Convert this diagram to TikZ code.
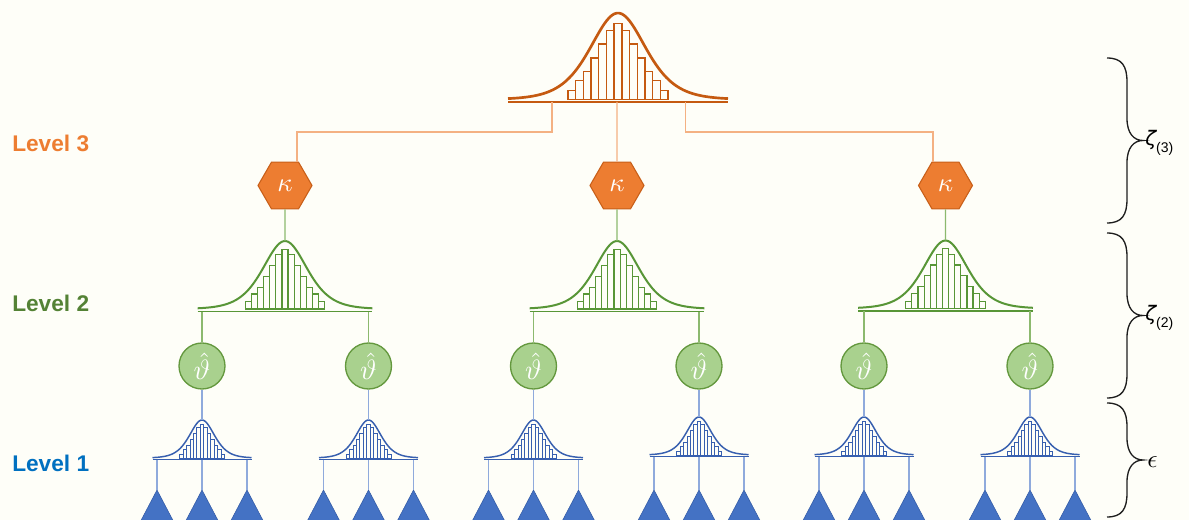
\documentclass[tikz,border=0pt]{standalone}
\usepackage{fontspec}
\usepackage{graphicx}
\newfontfamily\lsans{Liberation Sans}
\newfontfamily\dejavu{DejaVu Sans}
\usetikzlibrary{shapes.geometric,calc}

\definecolor{bg}{RGB}{254,254,248}
\definecolor{orangedist}{RGB}{197,90,17}
\definecolor{hexfill}{RGB}{237,125,49}
\definecolor{hexdraw}{RGB}{200,95,25}
\definecolor{oline}{RGB}{244,177,131}
\definecolor{greendist}{RGB}{88,150,55}
\definecolor{circfill}{RGB}{169,209,142}
\definecolor{circdraw}{RGB}{100,152,62}
\definecolor{gline}{RGB}{140,185,110}
\definecolor{bluedist}{RGB}{55,95,175}
\definecolor{bline}{RGB}{143,170,220}
\definecolor{trifill}{RGB}{68,114,196}
\definecolor{tridraw}{RGB}{50,90,165}
\definecolor{lv3}{RGB}{237,125,49}
\definecolor{lv2}{RGB}{84,130,53}
\definecolor{lv1}{RGB}{0,112,192}
\definecolor{bracecol}{RGB}{30,30,30}

% #1 name, #2 cx, #3 curve-end y, #4 scale, #5 height, #6 colour, #7 curve lw, #8 bar lw, #9 gap to baseline
\newcommand\drawdist[9]{%
  \pgfmathsetmacro\dhw{110*#4}%
  \pgfmathsetmacro\dsa{37*#4}%
  \pgfmathsetmacro\dbw{7.7*#4}%
  \pgfmathsetmacro\dbl{#8*1.4}%
  \draw[#6,line width=#7] plot[domain=-\dhw:\dhw,samples=90,smooth] ({#2+\x},{#3-#5/((cosh(\x/\dsa))^2)});
  \foreach \f [count=\i from 0] in {0.88,0.80,0.64,0.48,0.32,0.22,0.105}{%
    \draw[#6,line width=#8] ({#2+(\i-0.5)*\dbw},#3) rectangle ({#2+(\i+0.5)*\dbw},{#3-\f*#5});
    \ifnum\i>0 \draw[#6,line width=#8] ({#2-(\i-0.5)*\dbw},#3) rectangle ({#2-(\i+0.5)*\dbw},{#3-\f*#5});\fi
  }%
  \draw[#6,line width=\dbl pt] ({#2-\dhw},{#3+#9}) -- ({#2+\dhw},{#3+#9});
  \coordinate (#1-p) at (#2,{#3-#5});
}

% right brace: #1 left x, #2 top y, #3 bottom y
\newcommand\sidebrace[3]{%
  \pgfmathsetmacro\bm{(#2+#3)/2}%
  \draw[bracecol,line width=1pt]
    (#1,#2) .. controls ({#1+15},#2) and ({#1+20},{#2+8}) .. ({#1+20},{#2+24})
    -- ({#1+20},{\bm-22}) .. controls ({#1+20},{\bm-7}) and ({#1+27},\bm) .. ({#1+36},\bm)
    .. controls ({#1+27},\bm) and ({#1+20},{\bm+7}) .. ({#1+20},{\bm+22})
    -- ({#1+20},{#3-24}) .. controls ({#1+20},{#3-8}) and ({#1+15},#3) .. (#1,#3);
}

\newcommand\kap{\scalebox{2.0}{$\kappa$}}
\newcommand\thh{\scalebox{2.1}{$\hat{\vartheta}$}}
\newcommand\zetalab[1]{{\dejavu\itshape\fontsize{15}{18}\selectfont ζ}\raisebox{-5pt}{\lsans\fontsize{10.5}{12}\selectfont(#1)}}

\tikzset{
  hexk/.style={regular polygon, regular polygon sides=6, minimum size=40.5pt, inner sep=0pt,
    fill=hexfill, draw=hexdraw, line width=0.8pt, text=white},
  thetanode/.style={circle, minimum size=34.5pt, inner sep=0pt, fill=circfill, draw=circdraw,
    line width=1pt, text=white},
  lvl/.style={anchor=base west, inner sep=0pt, font=\lsans\bfseries\fontsize{17}{20}\selectfont},
  olink/.style={draw=oline, line width=0.8pt},
  glink/.style={draw=gline, line width=0.8pt},
  blink/.style={draw=bline, line width=0.8pt},
  tri/.style={fill=trifill, draw=tridraw, line width=0.4pt},
  sidelab/.style={anchor=west, inner sep=0pt}
}

\begin{document}
\begin{tikzpicture}[x=0.75pt,y=-0.75pt]
\useasboundingbox (0,0) rectangle (1189,520);
\clip (0,0) rectangle (1189,520);
\fill[bg] (0,0) rectangle (1189,520);

% level labels
\node[lvl, text=lv3] (L3) at (12,152) {Level 3};
\node[lvl, text=lv2] (L2) at (12,311) {Level 2};
\node[lvl, text=lv1] (L1) at (12,471) {Level 1};

% top distribution
\drawdist{T}{618}{99.5}{1}{86.5}{orangedist}{2pt}{1pt}{2.5}
\coordinate (Tl) at (552,102);
\coordinate (Tm) at (617,102);
\coordinate (Tr) at (685.5,102);

% hexagons
\node[hexk] (k1) at (285,185.5) {\kap};
\node[hexk] (k2) at (617,185.5) {\kap};
\node[hexk] (k3) at (945.5,185.5) {\kap};

\draw[olink] (Tl) |- (297,132) -- (297,132 |- k1.north);
\draw[olink] (Tm) -- (k2.north);
\draw[olink] (Tr) |- (933,132) -- (933,132 |- k3.north);

% level 2 distributions
\drawdist{G1}{285}{309}{0.795}{68}{greendist}{1.5pt}{0.85pt}{2.7}
\drawdist{G2}{617}{309}{0.795}{68}{greendist}{1.5pt}{0.85pt}{2.7}
\drawdist{G3}{945.5}{308.5}{0.795}{68}{greendist}{1.5pt}{0.85pt}{2.7}
\draw[glink] (k1.south) -- (G1-p);
\draw[glink] (k2.south) -- (G2-p);
\draw[glink] (k3.south) -- (G3-p);

% theta circles
\node[thetanode] (c1) at (202,366) {\thh};
\node[thetanode] (c2) at (368.5,366) {\thh};
\node[thetanode] (c3) at (533.5,366) {\thh};
\node[thetanode] (c4) at (699,366) {\thh};
\node[thetanode] (c5) at (864,366) {\thh};
\node[thetanode] (c6) at (1030,366) {\thh};

\coordinate (G1a) at (202,311.7);
\coordinate (G1b) at (368.5,311.7);
\coordinate (G2a) at (533.5,311.7);
\coordinate (G2b) at (699,311.7);
\coordinate (G3a) at (864,311.2);
\coordinate (G3b) at (1030,311.2);
\draw[glink] (G1a) -- (c1.north);
\draw[glink] (G1b) -- (c2.north);
\draw[glink] (G2a) -- (c3.north);
\draw[glink] (G2b) -- (c4.north);
\draw[glink] (G3a) -- (c5.north);
\draw[glink] (G3b) -- (c6.north);

% level 1 distributions and leaves
\foreach \n/\cx/\by in {1/202/458, 2/368.5/458, 3/533.5/458, 4/699/455, 5/864/455, 6/1030/455}{
  \drawdist{B\n}{\cx}{\by}{0.45}{38}{bluedist}{1.1pt}{0.55pt}{1.5}
  \draw[blink] (c\n.south) -- (B\n-p);
  \foreach \k/\dx in {1/-45,2/0,3/45}{
    \coordinate (B\n-\k) at ({\cx+\dx},{\by+1.5});
    \coordinate (t\n-\k) at ({\cx+\dx},490);
    \fill[tri] (t\n-\k) -- ++(-21,40) -- ++(42,0) -- cycle;
    \draw[blink] (B\n-\k) -- (t\n-\k);
  }
}

% braces and their labels
\sidebrace{1107}{58}{223}
\sidebrace{1107}{233}{398}
\sidebrace{1107}{403}{517}
\node[sidelab] (z3) at (1145,143) {\zetalab{3}};
\node[sidelab] (z2) at (1145,318) {\zetalab{2}};
\node[sidelab] (eps) at (1147,462) {\scalebox{1.9}{$\epsilon$}};
\end{tikzpicture}
\end{document}
